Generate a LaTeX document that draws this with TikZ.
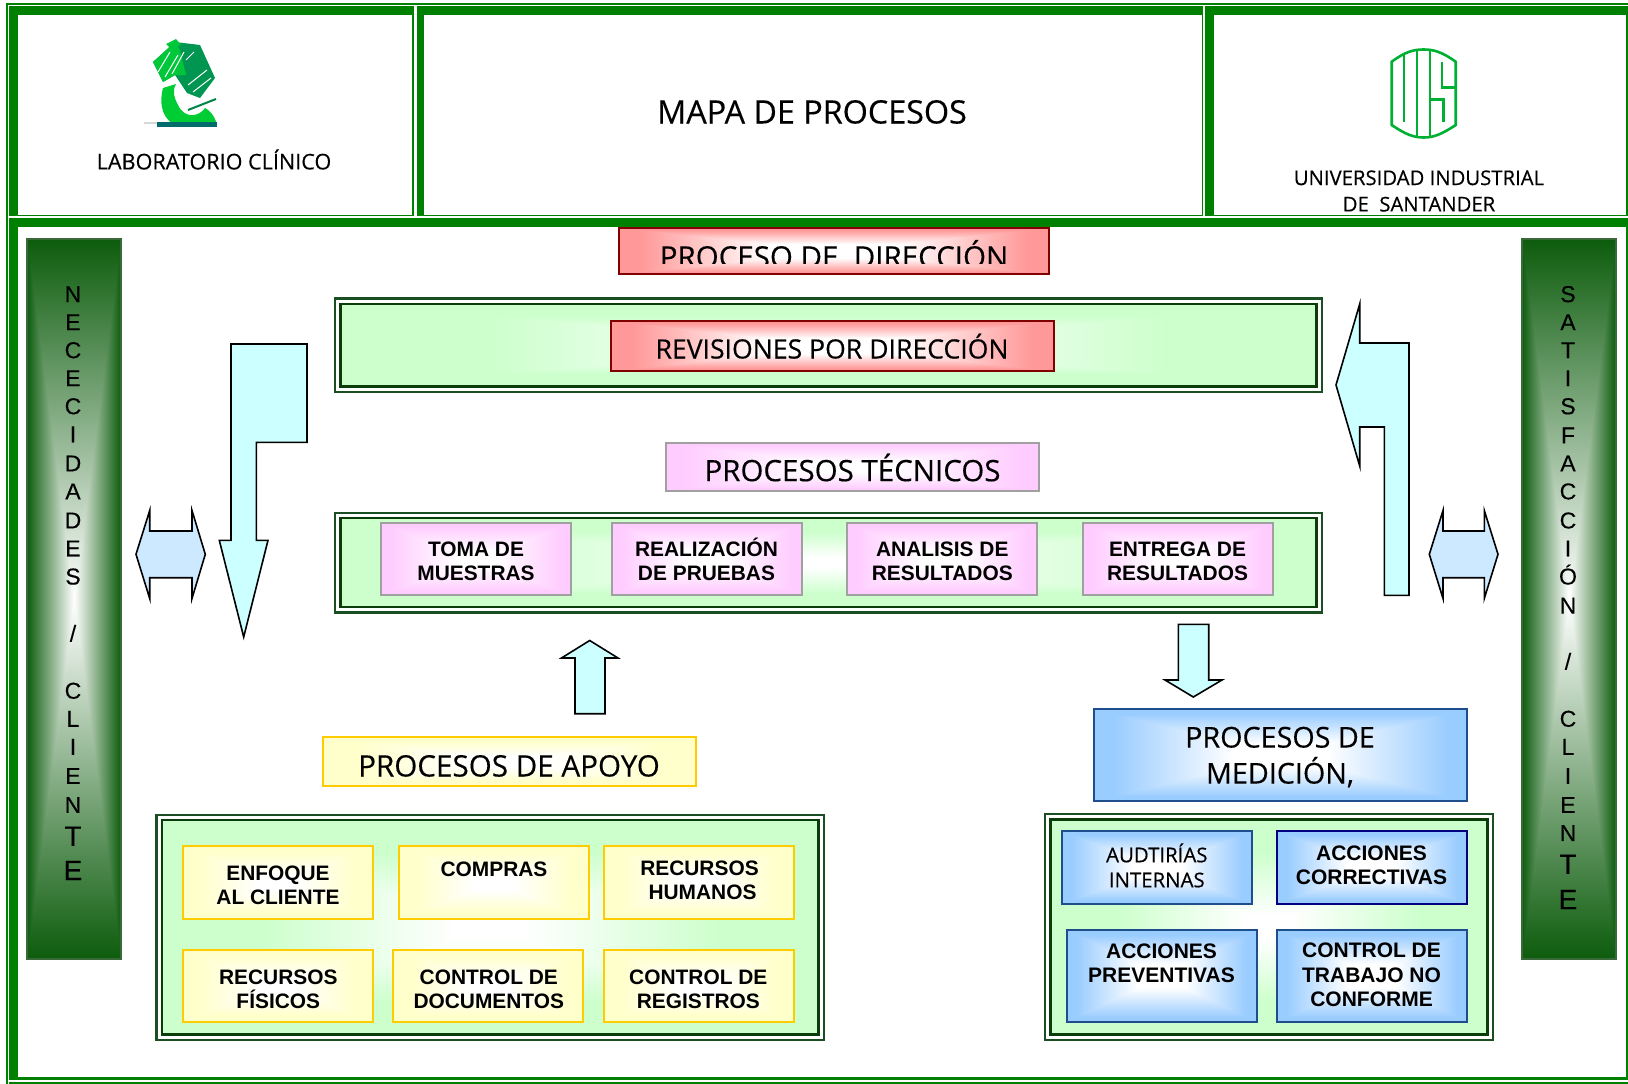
\documentclass[tikz,border=0pt]{standalone}
\usepackage{fontspec}
\setmainfont[FakeBold=0.3]{Open Sans}
\newfontfamily\arialf{Liberation Sans}
\newfontfamily\arialv[FakeBold=0.25]{Liberation Sans}
\definecolor{frameG}{HTML}{008000}
\definecolor{darkG}{HTML}{0A3D0A}
\definecolor{outerG}{HTML}{1A4F24}
\definecolor{arrowC}{HTML}{CCFFFF}
\definecolor{dblC}{HTML}{CCE9FF}
\definecolor{redB}{HTML}{800000}
\definecolor{pinkB}{HTML}{A0A0A0}
\definecolor{yelB}{HTML}{FFCC00}
\definecolor{bluB}{HTML}{1F4E8C}
\definecolor{navyB}{HTML}{000080}
\definecolor{panelB}{HTML}{3A6A3A}
\definecolor{uisG}{HTML}{00B033}
% rectangular path gradient: #2,#3,#4 = 1-r,1-g,1-b of the edge colour; white up to #5, edge colour from #6 (#6 is the span)
\newcommand\DefShade[6]{\pgfdeclarefunctionalshading{#1}{\pgfpoint{-50bp}{-50bp}}{\pgfpoint{50bp}{50bp}}{}{abs exch abs 2 copy gt {pop} {exch pop} ifelse 25 div #5 sub #6 div dup 0 lt {pop 0} if dup 1 gt {pop 1} if dup #2 mul 1 exch sub exch dup #3 mul 1 exch sub exch #4 mul 1 exch sub}}
\DefShade{shRed}{0}{0.4}{0.4}{0.3}{0.6}
\DefShade{shPink}{0}{0.2}{0}{0.2}{0.7}
\DefShade{shYel}{0}{0}{0.2}{0.2}{0.6}
\DefShade{shBlu}{0.4}{0.2}{0}{0.25}{0.65}
\DefShade{shGrn}{0.2}{0}{0.2}{0.1}{0.6}
\DefShade{shPan}{0.95}{0.64}{0.95}{0}{1}
\tikzset{
  bx/.style={rectangle,inner sep=0pt,outer sep=0pt,line width=2pt},
  redbox/.style={bx,draw=redB,shading=shRed},
  pinkbox/.style={bx,draw=pinkB,shading=shPink},
  yelbox/.style={bx,draw=yelB,shading=shYel},
  blubox/.style={bx,draw=bluB,shading=shBlu},
  navybox/.style={bx,draw=navyB,shading=shBlu},
  pnlbox/.style={bx,draw=panelB,shading=shPan},
  grnout/.style={bx,draw=outerG,fill=white,line width=2.4pt},
  grnin/.style={bx,draw=darkG,line width=2.6pt,shading=shGrn},
  lab/.style={inner sep=0pt,outer sep=0pt,align=center,text=black,font=\arialf\bfseries\fontsize{20.9}{24}\selectfont},
  labb/.style={lab,font=\arialf\bfseries\fontsize{21}{24.6}\selectfont},
  reg/.style={inner sep=0pt,outer sep=0pt,align=center,text=black,font=\fontsize{#1}{#1}\selectfont},
  one/.style={text height=#1pt,text depth=0pt},
  blk/.style={draw=black,line width=1.6pt,fill=arrowC,line join=miter},
  dbl/.style={draw=black,line width=1.6pt,fill=dblC,line join=miter},
  vlet/.style={inner sep=0pt,outer sep=0pt,text=black,text height=16.5pt,text depth=0pt,font=\arialv\fontsize{23}{23}\selectfont},
  vbig/.style={vlet,text height=20pt,font=\arialv\fontsize{28}{28}\selectfont},
  uis/.style={draw=uisG,line width=2.6pt},
}
\newcommand\Bx[6]{\node[#1,minimum width={(#5-#3-2)*1pt},minimum height={(#6-#4-2)*1pt}] (#2) at ({(#3+#5)/2},{(#4+#6)/2}) {};}
\begin{document}
\begin{tikzpicture}[x=1pt,y=-1pt]
\useasboundingbox (0,0) rectangle (1628,1084);
\fill[white] (0,0) rectangle (1628,1084);
% ---- frame
\fill[frameG] (6,3) rectangle (1628,5);
\fill[frameG] (6,3) rectangle (8,1084);
\fill[frameG] (9,6) rectangle (1628,227);
\fill[frameG] (9,6) rectangle (18,1077);
\fill[frameG] (1626,6) rectangle (1628,1080);
\fill[frameG] (9,1077) rectangle (1628,1079.5);
\fill[frameG] (9,1082) rectangle (1628,1084);
\fill[white] (9,216) rectangle (1628,217.5);
\fill[white] (413.7,6) rectangle (416.5,216);
\fill[white] (1203.3,6) rectangle (1205,216);
\fill[white] (18,15) rectangle (412,215);
\fill[white] (424,15) rectangle (1201.7,215);
\fill[white] (1214,15) rectangle (1626,215);
\fill[white] (18,227) rectangle (1626,1077);
% ---- header texts
\node[reg=21.6,one=15.4] (labc) at (214,161.7) {LABORATORIO CLÍNICO};
\node[reg=32.3,one=23] (mapa) at (812,112) {MAPA DE PROCESOS};
\node[reg=20,inner sep=0pt,font=\fontsize{20.3}{26.4}\selectfont] (uisT) at (1419,191) {UNIVERSIDAD INDUSTRIAL\\DE\ \ SANTANDER};
% ---- microscope logo
\fill[teal!70!green!90!black] (153,62) -- (175,42) -- (200,45) -- (215,78) -- (200,98) -- (187,93) -- (175,75) -- (163,82) -- cycle;
\fill[green!55!teal] (153,62) -- (175,42) -- (180,50) -- (186,75) -- (175,75) -- (163,82) -- cycle;
\fill[green!55!teal] (166,44) -- (176,39) -- (181,45) -- (172,50) -- cycle;
\foreach \a/\b/\c/\d in {158/72/170/52, 165/77/178/55, 172/74/184/52, 186/60/194/52, 188/85/207/70, 193/92/211/78}{
  \draw[white,line width=1pt] (\a,\b) -- (\c,\d);
}
\fill[green!60!teal] (163,88) .. controls (158,108) and (165,120) .. (175,125) -- (217,125) .. controls (214,112) and (205,108) .. (205,108) .. controls (200,116) and (185,120) .. (178,105) .. controls (174,97) and (172,92) .. (176,84) -- cycle;
\fill[teal!85!black] (157,122) rectangle (217,127);
\draw[teal!70!green!80!black,line width=2pt] (188,110) -- (216,99);
\fill[black!15] (144,122) rectangle (157,123.5);
% ---- UIS logo
\draw[uis] (1391.7,61.7) .. controls (1405,52) and (1413,49.5) .. (1423.7,49.5) .. controls (1434,49.5) and (1442,52) .. (1455.7,61.7) -- (1455.7,125) .. controls (1442,134) and (1434,137.5) .. (1423.7,137.5) .. controls (1413,137.5) and (1405,134) .. (1391.7,125) -- cycle;
\draw[uis] (1404,52.5) -- (1404,122);
\draw[uis] (1417,50) -- (1417,137);
\draw[uis] (1430,50) -- (1430,137);
\draw[uis] (1442,61.7) -- (1442,87.3) -- (1455.7,87.3);
\draw[uis] (1430,99.3) -- (1443.5,99.3) -- (1443.5,122);
% ---- side panels
\Bx{pnlbox}{panL}{26}{238}{122}{960}
\Bx{pnlbox}{panR}{1521}{238}{1617}{960}
\foreach \i/\c/\p in {1/N/283,2/E/310,3/C/337,4/E/364,5/C/391,6/I/418,7/D/446,8/A/473,9/D/501,10/E/528,11/S/555,12/{/}/610,13/C/665,14/L/692,15/I/719,16/E/747,17/N/775}{
  \node[vlet] (nl\i) at (73,{\p*1.0383}) {\c};
}
\node[vbig] (nl18) at (73,{805*1.0383}) {T};
\node[vbig] (nl19) at (73,{838*1.0383}) {E};
\foreach \i/\c/\p in {1/S/283,2/A/310,3/T/337,4/I/364,5/S/391,6/F/419,7/A/446,8/C/473,9/C/501,10/I/528,11/Ó/555,12/N/583,13/{/}/637,14/C/692,15/L/719,16/I/747,17/E/775,18/N/802}{
  \node[vlet] (nr\i) at (1568,{\p*1.0383}) {\c};
}
\node[vbig] (nr19) at (1568,{832*1.0383}) {T};
\node[vbig] (nr20) at (1568,{866*1.0383}) {E};
% ---- direction
\Bx{redbox}{dirB}{618}{227}{1050}{275}
\begin{scope}
\clip (618,228) rectangle (1050,263.3);
\node[reg=29.5,one=21] (dirT) at (834,257) {PROCESO DE\ \ DIRECCIÓN};
\end{scope}
\Bx{grnout}{g1o}{334}{297.5}{1323}{393}
\Bx{grnin}{g1i}{339.5}{303}{1317.5}{387.5}
\Bx{redbox}{revB}{610}{320}{1055}{372}
\node[reg=26.6,one=19] (revT) at (832,349) {REVISIONES POR DIRECCIÓN};
% ---- technical
\Bx{pinkbox}{tecB}{665}{441.7}{1040}{492.3}
\node[reg=29.5,one=21] (tecT) at (852.5,470.7) {PROCESOS TÉCNICOS};
\Bx{grnout}{g2o}{334}{511.7}{1323}{613.3}
\Bx{grnin}{g2i}{339.5}{517}{1317.5}{608}
\Bx{pinkbox}{p1}{380.3}{522}{572.3}{595.7}
\Bx{pinkbox}{p2}{610.7}{522}{802.7}{595.7}
\Bx{pinkbox}{p3}{846}{522}{1038}{595.7}
\Bx{pinkbox}{p4}{1081.7}{522}{1273.7}{595.7}
\node[lab] (p1T) at (476,561.5) {TOMA DE\\MUESTRAS};
\node[lab] (p2T) at (706.5,561.5) {REALIZACI\smash{Ó}N\\DE PRUEBAS};
\node[lab] (p3T) at (942.3,561.5) {ANALISIS DE\\RESULTADOS};
\node[lab] (p4T) at (1177.5,561.5) {ENTREGA DE\\RESULTADOS};
% ---- support
\Bx{yelbox}{apoB}{322}{735.7}{697.3}{787}
\node[reg=29.6,one=21] (apoT) at (509,766) {PROCESOS DE APOYO};
\Bx{grnout}{g3o}{155.3}{813.7}{825}{1040.7}
\Bx{grnin}{g3i}{160.8}{819}{819.5}{1035.5}
\Bx{yelbox}{y1}{181.7}{845}{373.5}{919.7}
\Bx{yelbox}{y2}{398}{845}{590.3}{919.7}
\Bx{yelbox}{y3}{602.7}{845}{794.7}{919.7}
\Bx{yelbox}{y4}{181.7}{948.5}{373.5}{1022.5}
\Bx{yelbox}{y5}{392.3}{948.5}{584.3}{1022.5}
\Bx{yelbox}{y6}{602.7}{948.5}{794.7}{1022.5}
\node[lab] (y1T) at (278,885.5) {ENFOQUE\\AL CLIENTE};
\node[lab] (y2T) at (494,869) {COMPRAS};
\node[lab] (y3T) at (699.5,880.5) {RECURSOS\\\hspace*{6pt}HUMANOS};
\node[lab] (y4T) at (278.3,989.5) {RECURSOS\\F\smash{Í}SICOS};
\node[lab] (y5T) at (488.8,989.5) {CONTROL DE\\DOCUMENTOS};
\node[lab] (y6T) at (698.3,989.5) {CONTROL DE\\REGISTROS};
% ---- measurement
\Bx{blubox}{medB}{1093}{708}{1468}{802}
\node[reg=28.7,inner sep=0pt,font=\fontsize{28.7}{36}\selectfont] (medT) at (1280,757) {PROCESOS DE\\MEDICI\smash{Ó}N,};
\Bx{grnout}{g4o}{1044}{813}{1494}{1041}
\Bx{grnin}{g4i}{1049.5}{818.5}{1488.5}{1035.5}
\Bx{blubox}{b1}{1061}{830}{1253}{905}
\Bx{navybox}{b2}{1276}{830}{1468}{905}
\Bx{blubox}{b3}{1065.5}{929}{1257.5}{1023}
\Bx{blubox}{b4}{1276}{929}{1468}{1023}
\node[reg=20.4,inner sep=0pt,font=\fontsize{20.4}{25}\selectfont] (b1T) at (1156.8,867.5) {AUDTIR\smash{Í}AS\\INTERNAS};
\node[labb] (b2T) at (1371.5,865.2) {ACCIONES\\CORRECTIVAS};
\node[labb] (b3T) at (1161.5,963.2) {ACCIONES\\PREVENTIVAS};
\node[labb] (b4T) at (1371.5,975) {CONTROL DE\\TRABAJO NO\\CONFORME};
% ---- block arrows
\draw[blk] (231,344) -- (307,344) -- (307,442.3) -- (256.3,442.3) -- (256.3,540.3) -- (268,540.3) -- (243.7,637) -- (219.3,540.3) -- (231,540.3) -- cycle;
\draw[blk] (1336,385) -- (1359.7,304) -- (1359.7,343) -- (1409,343) -- (1409,595.3) -- (1384.3,595.3) -- (1384.3,427) -- (1359.7,427) -- (1359.7,466) -- cycle;
\draw[blk] (589.7,640.5) -- (618,658) -- (605,658) -- (605,713.7) -- (575,713.7) -- (575,658) -- (561.5,658) -- cycle;
\draw[blk] (1178.3,624.3) -- (1208.7,624.3) -- (1208.7,680) -- (1222,680) -- (1193.3,697) -- (1165,680) -- (1178.3,680) -- cycle;
\draw[dbl] (136,554.3) -- (149.7,510.5) -- (149.7,531) -- (192,531) -- (192,510.5) -- (205.3,554.3) -- (192,598.5) -- (192,577.7) -- (149.7,577.7) -- (149.7,598.5) -- cycle;
\draw[dbl] (1429.3,554.3) -- (1443,510.5) -- (1443,531) -- (1484.3,531) -- (1484.3,510.5) -- (1498,554.3) -- (1484.3,598.5) -- (1484.3,577.7) -- (1443,577.7) -- (1443,598.5) -- cycle;
\end{tikzpicture}
\end{document}
